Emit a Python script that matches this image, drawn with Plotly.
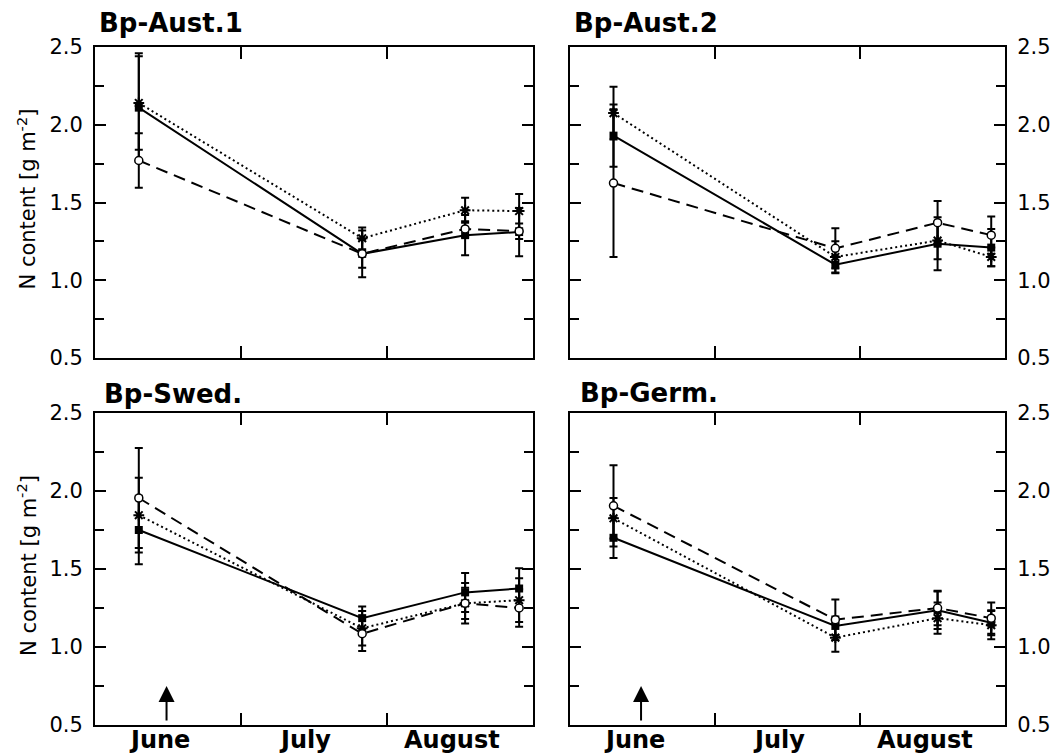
import plotly.graph_objects as go

# ---------------- data ----------------
months = ["June", "July", "August"]
month_label_pos = [0.445, 1.44, 2.445]       # months since 1 June
month_bounds = [1, 2]
sample_pos = [0.30, 1.83, 2.535, 2.905]     # sampling dates, months since 1 June
arrow_pos = 0.49

panel_names = ["Bp-Aust.1", "Bp-Aust.2", "Bp-Swed.", "Bp-Germ."]

aust1_solid = [2.11, 1.17, 1.29, 1.31]
aust1_solid_err = [0.35, 0.15, 0.13, 0.155]
aust1_dotted = [2.14, 1.27, 1.45, 1.445]
aust1_dotted_err = [0.30, 0.07, 0.08, 0.11]
aust1_dashed = [1.77, 1.17, 1.33, 1.315]
aust1_dashed_err = [0.175, 0.09, 0.05, 0.05]

aust2_solid = [1.93, 1.10, 1.235, 1.21]
aust2_solid_err = [0.20, 0.055, 0.17, 0.12]
aust2_dotted = [2.075, 1.15, 1.255, 1.15]
aust2_dotted_err = [0.17, 0.10, 0.12, 0.06]
aust2_dashed = [1.625, 1.205, 1.37, 1.29]
aust2_dashed_err = [0.475, 0.13, 0.14, 0.12]

swed_solid = [1.75, 1.185, 1.35, 1.375]
swed_solid_err = [0.22, 0.075, 0.125, 0.13]
swed_dotted = [1.845, 1.12, 1.28, 1.30]
swed_dotted_err = [0.24, 0.11, 0.10, 0.14]
swed_dashed = [1.955, 1.085, 1.28, 1.25]
swed_dashed_err = [0.32, 0.11, 0.13, 0.12]

germ_solid = [1.70, 1.135, 1.235, 1.155]
germ_solid_err = [0.13, 0.06, 0.12, 0.08]
germ_dotted = [1.825, 1.06, 1.185, 1.14]
germ_dotted_err = [0.13, 0.09, 0.10, 0.09]
germ_dashed = [1.905, 1.175, 1.25, 1.185]
germ_dashed_err = [0.26, 0.13, 0.11, 0.10]

y_tick_vals = [0.5, 1.0, 1.5, 2.0, 2.5]
y_title = "N content [g m<sup>-2</sup>]"

# ---------------- layout constants ----------------
W, H = 1054, 756
FONT = "DejaVu Sans"
BLACK = "black"

panels = [
    dict(name=panel_names[0], s=aust1_solid, se=aust1_solid_err, d=aust1_dotted, de=aust1_dotted_err,
         a=aust1_dashed, ae=aust1_dashed_err, px=(95, 533), py=(47, 358), side="left", bottom=False, tx=97, ty=23),
    dict(name=panel_names[1], s=aust2_solid, se=aust2_solid_err, d=aust2_dotted, de=aust2_dotted_err,
         a=aust2_dashed, ae=aust2_dashed_err, px=(570, 1005), py=(47, 358), side="right", bottom=False, tx=572, ty=23),
    dict(name=panel_names[2], s=swed_solid, se=swed_solid_err, d=swed_dotted, de=swed_dotted_err,
         a=swed_dashed, ae=swed_dashed_err, px=(95, 533), py=(413, 725), side="left", bottom=True, tx=102, ty=394),
    dict(name=panel_names[3], s=germ_solid, se=germ_solid_err, d=germ_dotted, de=germ_dotted_err,
         a=germ_dashed, ae=germ_dashed_err, px=(570, 1005), py=(413, 725), side="right", bottom=True, tx=578, ty=393),
]

fig = go.Figure()
layout = dict(
    template="none",
    width=W, height=H,
    margin=dict(l=0, r=0, t=0, b=0, pad=0, autoexpand=False),
    paper_bgcolor="white", plot_bgcolor="white",
    showlegend=False,
    font=dict(family=FONT, size=21, color=BLACK),
)
annotations = []

for i, p in enumerate(panels):
    k = "" if i == 0 else str(i + 1)
    xa, ya = "x" + k, "y" + k
    series = [
        (p["s"], p["se"], "solid", dict(symbol="square", size=8, color=BLACK)),
        (p["d"], p["de"], "2px,3px", dict(symbol="asterisk-open", size=9, color=BLACK,
                                          line=dict(color=BLACK, width=2))),
        (p["a"], p["ae"], "12px,7px", dict(symbol="circle", size=8, color="white",
                                           line=dict(color=BLACK, width=1.5))),
    ]
    for vals, errs, dash, marker in series:
        fig.add_trace(go.Scatter(
            x=sample_pos, y=vals, xaxis=xa, yaxis=ya, mode="lines+markers",
            line=dict(color=BLACK, width=2, dash=dash),
            marker=marker,
            error_y=dict(type="data", array=errs, visible=True, color=BLACK, thickness=2, width=4),
        ))

    x0, x1 = p["px"]
    y0, y1 = p["py"]
    layout["xaxis" + k] = dict(
        domain=[x0 / W, x1 / W], range=[0, 3], anchor=ya, automargin=False,
        showgrid=False, zeroline=False, showline=True, linewidth=2, linecolor=BLACK,
        mirror="ticks", ticks="inside", ticklen=12, tickwidth=2, tickcolor=BLACK,
        tickvals=month_bounds, showticklabels=False,
    )
    layout["yaxis" + k] = dict(
        domain=[1 - y1 / H, 1 - y0 / H], range=[0.5, 2.5], anchor=xa, side=p["side"], automargin=False,
        showgrid=False, zeroline=False, showline=True, linewidth=2, linecolor=BLACK,
        mirror="ticks", ticks="inside", ticklen=11, tickwidth=2, tickcolor=BLACK,
        tickvals=y_tick_vals, tickformat=".1f", ticklabelstandoff=6,
        tickfont=dict(family=FONT, size=21, color=BLACK),
        minor=dict(dtick=0.25, tick0=0.5, ticks="inside", ticklen=9, tickwidth=2, tickcolor=BLACK),
    )
    # panel title
    annotations.append(dict(
        text="<b>%s</b>" % p["name"], x=p["tx"] / W, y=1 - p["ty"] / H, xref="paper", yref="paper",
        xanchor="left", yanchor="middle", showarrow=False,
        font=dict(family=FONT, size=26, color=BLACK),
    ))
    if p["side"] == "left":
        annotations.append(dict(
            text=y_title, x=27 / W, y=1 - ((y0 + y1) / 2 - 3) / H, xref="paper", yref="paper",
            xanchor="center", yanchor="middle", textangle=-90, showarrow=False,
            font=dict(family=FONT, size=21, color=BLACK),
        ))
    if p["bottom"]:
        for m, pos in zip(months, month_label_pos):
            annotations.append(dict(
                text="<b>%s</b>" % m, x=pos, y=1 - 740 / H, xref=xa, yref="paper",
                xanchor="center", yanchor="middle", showarrow=False,
                font=dict(family=FONT, size=24, color=BLACK),
            ))
        annotations.append(dict(
            x=arrow_pos, y=0.75, ax=arrow_pos, ay=0.52, xref=xa, yref=ya, axref=xa, ayref=ya,
            text="", showarrow=True, arrowhead=2, arrowsize=1.6, arrowwidth=2, arrowcolor=BLACK,
        ))

layout["annotations"] = annotations
fig.update_layout(**layout)
fig.write_html(
    "out.html",
    config={"displayModeBar": False},
    post_script="document.body.style.margin='0';document.body.style.padding='0';"
                "document.documentElement.style.overflow='hidden';",
)
